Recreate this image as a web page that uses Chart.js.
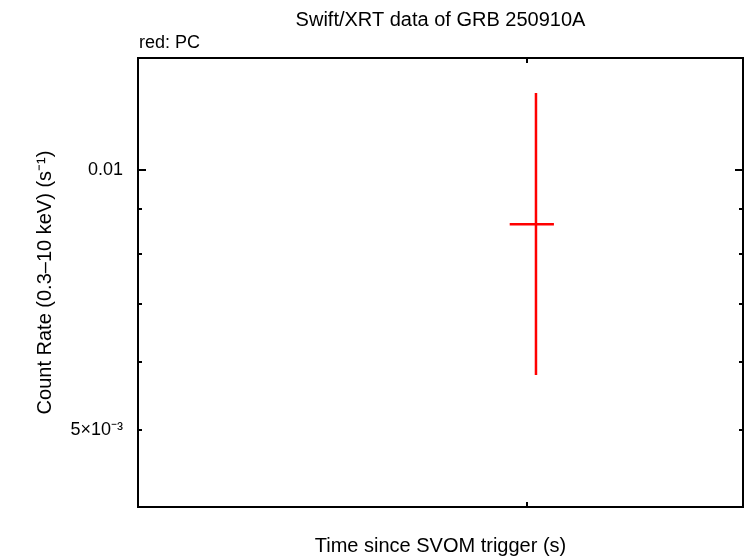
<!DOCTYPE html>
<html>
<head>
<meta charset="utf-8">
<script src="https://cdn.jsdelivr.net/npm/chart.js@4.4.1/dist/chart.umd.min.js"></script>
<style>
  html, body { margin: 0; padding: 0; background: #fff; }
</style>
</head>
<body>
<canvas id="chart" width="746" height="558"></canvas>
<script>
// light curve points (PC mode), time since SVOM trigger in s
const times = [10204];
const timeErrLow = [594];
const timeErrHigh = [427];
const rates = [0.00865];
const rateErrLow = [0.00286];
const rateErrHigh = [0.00363];

// axis ticks
const yTicks = [0.005, 0.006, 0.007, 0.008, 0.009, 0.01];
const yTickLabels = ["5×10⁻³", "", "", "", "", "0.01"];
const yMajorTicks = [0.01];
const xTicks = [10000];

const FONT = '"Liberation Sans", Arial, Helvetica, sans-serif';
Chart.defaults.font.family = FONT;
Chart.defaults.font.size = 20;
Chart.defaults.color = "#000";

// one vertical + one horizontal segment per point
const datasets = [];
times.forEach((t, i) => {
  datasets.push({
    data: [
      { x: t, y: rates[i] - rateErrLow[i] },
      { x: t, y: rates[i] + rateErrHigh[i] },
    ],
  });
  datasets.push({
    data: [
      { x: t - timeErrLow[i], y: rates[i] },
      { x: t + timeErrHigh[i], y: rates[i] },
    ],
  });
});
datasets.forEach((d) => {
  d.showLine = true;
  d.borderColor = "#ff0000";
  d.borderWidth = 2.5;
  d.pointRadius = 0;
  d.borderCapStyle = "butt";
});

// frame, inward ticks and header texts
const framePlugin = {
  id: "frame",
  afterDraw(chart) {
    const { ctx, chartArea: a, scales } = chart;
    ctx.save();
    ctx.strokeStyle = "#000";
    ctx.lineWidth = 2;
    ctx.strokeRect(a.left, a.top, a.right - a.left, a.bottom - a.top);

    yTicks.forEach((v) => {
      const py = Math.round(scales.y.getPixelForValue(v));
      const len = yMajorTicks.includes(v) ? 8 : 4;
      ctx.beginPath();
      ctx.moveTo(a.left, py);
      ctx.lineTo(a.left + len, py);
      ctx.moveTo(a.right, py);
      ctx.lineTo(a.right - len, py);
      ctx.stroke();
    });
    xTicks.forEach((v) => {
      const px = Math.round(scales.x.getPixelForValue(v));
      ctx.beginPath();
      ctx.moveTo(px, a.bottom);
      ctx.lineTo(px, a.bottom - 5);
      ctx.moveTo(px, a.top);
      ctx.lineTo(px, a.top + 5);
      ctx.stroke();
    });

    ctx.fillStyle = "#000";
    ctx.textBaseline = "alphabetic";
    ctx.font = "20px " + FONT;
    ctx.textAlign = "center";
    ctx.fillText("Swift/XRT data of GRB 250910A", (a.left + a.right) / 2, 26);
    ctx.font = "18px " + FONT;
    ctx.textAlign = "left";
    ctx.fillText("red: PC", a.left + 1, 48);
    ctx.restore();
  },
};

new Chart(document.getElementById("chart"), {
  type: "scatter",
  data: { datasets },
  plugins: [framePlugin],
  options: {
    responsive: false,
    animation: false,
    layout: { padding: { top: 58, right: 3, left: 0, bottom: 0 } },
    plugins: {
      legend: { display: false },
      tooltip: { enabled: false },
      title: { display: false },
    },
    scales: {
      x: {
        type: "logarithmic",
        min: 4113,
        max: 16370,
        grid: { display: false },
        border: { display: false },
        ticks: { display: false },
        afterBuildTicks: (s) => { s.ticks = xTicks.map((v) => ({ value: v })); },
        afterFit: (s) => { s.height = 51; },
        title: {
          display: true,
          text: "Time since SVOM trigger (s)",
          font: { size: 20 },
          padding: { top: 0, bottom: 0 },
        },
      },
      y: {
        type: "logarithmic",
        min: 0.004071,
        max: 0.01348,
        grid: { display: false, drawTicks: false },
        border: { display: false },
        afterBuildTicks: (s) => { s.ticks = yTicks.map((v) => ({ value: v })); },
        afterFit: (s) => { s.width = 138; },
        ticks: {
          autoSkip: false,
          padding: 15,
          font: { size: 18 },
          callback: (value) => {
            const i = yTicks.findIndex((t) => Math.abs(t - value) < 1e-9);
            return i >= 0 ? yTickLabels[i] : "";
          },
        },
        title: {
          display: true,
          text: "Count Rate (0.3–10 keV) (s⁻¹)",
          font: { size: 20 },
          padding: { top: 33, bottom: 0 },
        },
      },
    },
  },
});
</script>
</body>
</html>
